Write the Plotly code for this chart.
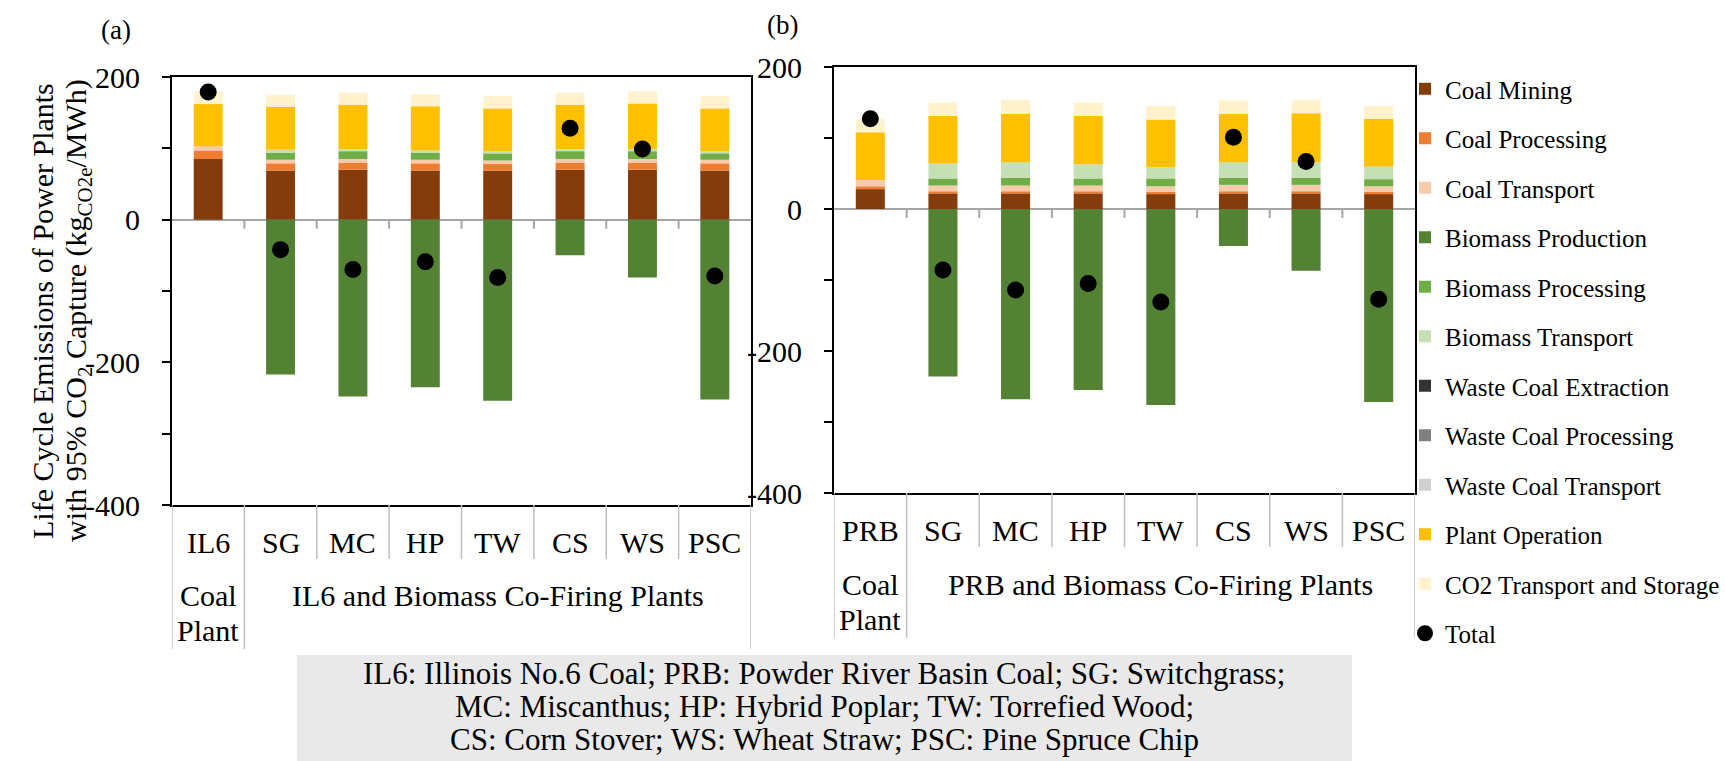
import plotly.graph_objects as go

# ---- data (kg CO2e / MWh) ----
cats_a = ["IL6", "SG", "MC", "HP", "TW", "CS", "WS", "PSC"]
cats_b = ["PRB", "SG", "MC", "HP", "TW", "CS", "WS", "PSC"]

series_names = [
    "Coal Mining", "Coal Processing", "Coal Transport",
    "Biomass Production", "Biomass Processing", "Biomass Transport",
    "Waste Coal Extraction", "Waste Coal Processing", "Waste Coal Transport",
    "Plant Operation", "CO2 Transport and Storage",
]

coal_mining_a = [85, 69, 70, 69, 69, 70, 70, 69]
coal_processing_a = [12, 10, 10, 10, 9, 10, 10, 10]
coal_transport_a = [6, 5, 5, 5, 5, 5, 5, 5]
biomass_production_a = [0, -217, -248, -235, -254, -50, -81, -252]
biomass_processing_a = [0, 10, 11, 10, 10, 11, 11, 9]
biomass_transport_a = [0, 4, 3, 3, 3, 3, 3, 3]
waste_coal_extraction_a = [0, 0, 0, 0, 0, 0, 0, 0]
waste_coal_processing_a = [0, 0, 0, 0, 0, 0, 0, 0]
waste_coal_transport_a = [0, 0, 0, 0, 0, 0, 0, 0]
plant_operation_a = [59, 60, 62, 62, 60, 62, 64, 60]
co2_transport_storage_a = [17, 17, 17, 17, 17, 17, 17, 17]

coal_mining_b = [28, 22, 22, 22, 21, 22, 22, 21]
coal_processing_b = [4, 3, 3, 3, 3, 3, 3, 3]
coal_transport_b = [9, 8, 8, 8, 8, 9, 9, 8]
biomass_production_b = [0, -236, -268, -255, -276, -52, -87, -272]
biomass_processing_b = [0, 10, 11, 10, 11, 10, 10, 10]
biomass_transport_b = [0, 21, 22, 20, 16, 22, 22, 18]
waste_coal_extraction_b = [0, 0, 0, 0, 0, 0, 0, 0]
waste_coal_processing_b = [0, 0, 0, 0, 0, 0, 0, 0]
waste_coal_transport_b = [0, 0, 0, 0, 0, 0, 0, 0]
plant_operation_b = [67, 67, 68, 68, 67, 68, 69, 67]
co2_transport_storage_b = [19, 19, 20, 19, 19, 19, 19, 18]

y_tick_values = [-400, -200, 0, 200]
y_tick_text = ["-400", "-200", "0", "200"]
y_minor_tick_values = [-300, -100, 100]

group_a = "IL6 and Biomass Co-Firing Plants"
group_b = "PRB and Biomass Co-Firing Plants"
note_lines = [
    "IL6: Illinois No.6 Coal; PRB: Powder River Basin Coal; SG: Switchgrass;",
    "MC: Miscanthus; HP: Hybrid Poplar; TW: Torrefied Wood;",
    "CS: Corn Stover; WS: Wheat Straw; PSC: Pine Spruce Chip",
]

colors = [
    "#843C0C", "#ED7D31", "#F8CBAD",
    "#548235", "#70AD47", "#C5E0B4",
    "#333333", "#808080", "#D0D0D0",
    "#FFC000", "#FFF2CC",
]

values_a = [coal_mining_a, coal_processing_a, coal_transport_a,
            biomass_production_a, biomass_processing_a, biomass_transport_a,
            waste_coal_extraction_a, waste_coal_processing_a, waste_coal_transport_a,
            plant_operation_a, co2_transport_storage_a]
values_b = [coal_mining_b, coal_processing_b, coal_transport_b,
            biomass_production_b, biomass_processing_b, biomass_transport_b,
            waste_coal_extraction_b, waste_coal_processing_b, waste_coal_transport_b,
            plant_operation_b, co2_transport_storage_b]

# net emissions per plant = sum of all stages
total_a = [sum(v[i] for v in values_a) for i in range(len(cats_a))]
total_b = [sum(v[i] for v in values_b) for i in range(len(cats_b))]

# ---- page geometry (pixels) ----
W, H = 1725, 761
FONT = "Liberation Serif"


def px(x):
    return x / W


def py(y):
    return 1 - y / H


fig = go.Figure()

for name, color, va, vb in zip(series_names, colors, values_a, values_b):
    fig.add_trace(go.Bar(x=cats_a, y=va, name=name, marker_color=color,
                         marker_line_width=0, legendgroup=name,
                         xaxis="x", yaxis="y", width=0.4))
    fig.add_trace(go.Bar(x=cats_b, y=vb, name=name, marker_color=color,
                         marker_line_width=0, legendgroup=name, showlegend=False,
                         xaxis="x2", yaxis="y2", width=0.4))

fig.add_trace(go.Scatter(x=cats_a, y=total_a, mode="markers", name="Total",
                         legendgroup="Total",
                         marker=dict(color="black", size=17),
                         xaxis="x", yaxis="y"))
fig.add_trace(go.Scatter(x=cats_b, y=total_b, mode="markers", name="Total",
                         legendgroup="Total", showlegend=False,
                         marker=dict(color="black", size=17),
                         xaxis="x2", yaxis="y2"))

xaxis_common = dict(type="category", range=[-0.5, 7.5], showticklabels=False,
                    ticks="", showgrid=False, showline=True, linecolor="black",
                    linewidth=2, mirror=True, zeroline=False)
yaxis_common = dict(range=[-400, 200], tickvals=y_tick_values, ticktext=y_tick_text,
                    ticks="outside", ticklen=8, tickwidth=2, tickcolor="black",
                    minor=dict(tickvals=y_minor_tick_values, ticks="outside",
                               ticklen=8, tickwidth=2, tickcolor="black",
                               showgrid=False),
                    showgrid=False, showline=True, linecolor="black", linewidth=2,
                    mirror=True, zeroline=True, zerolinecolor="#A6A6A6",
                    zerolinewidth=2, ticklabelstandoff=16,
                    tickfont=dict(family=FONT, size=30, color="black"))

dom_a_x = [px(172), px(751)]
dom_a_y = [py(505), py(77)]
dom_b_x = [px(834), px(1415)]
dom_b_y = [py(493), py(67)]

fig.update_layout(
    width=W, height=H,
    margin=dict(l=0, r=0, t=0, b=0, autoexpand=False),
    paper_bgcolor="white", plot_bgcolor="white",
    barmode="relative",
    font=dict(family=FONT, size=25, color="black"),
    xaxis=dict(domain=dom_a_x, anchor="y", categoryarray=cats_a, **xaxis_common),
    yaxis=dict(domain=dom_a_y, anchor="x", **yaxis_common),
    xaxis2=dict(domain=dom_b_x, anchor="y2", categoryarray=cats_b, **xaxis_common),
    yaxis2=dict(domain=dom_b_y, anchor="x2", **yaxis_common),
    legend=dict(x=px(1405), y=py(66), xanchor="left", yanchor="top",
                traceorder="grouped", tracegroupgap=14,
                font=dict(family=FONT, size=25, color="black"),
                bgcolor="rgba(0,0,0,0)"),
    showlegend=True,
)

shapes = []
annotations = []

# note box under the panels
shapes.append(dict(type="rect", xref="paper", yref="paper",
                   x0=px(297), x1=px(1352), y0=py(761), y1=py(655),
                   fillcolor="#E9E9E9", line=dict(width=0), layer="below"))
for line, ypix in zip(note_lines, [673, 706, 739]):
    annotations.append(dict(xref="paper", yref="paper", x=px(824), y=py(ypix),
                            text=line, showarrow=False, xanchor="center",
                            yanchor="middle",
                            font=dict(family=FONT, size=31, color="black")))

panels = [
    dict(xr="x", yr="y", cats=cats_a, bottom=505, cat_y=542, grp_y=595,
         inner_end=559, outer_end=649, group=group_a),
    dict(xr="x2", yr="y2", cats=cats_b, bottom=493, cat_y=530, grp_y=584,
         inner_end=547, outer_end=638, group=group_b),
]

for p in panels:
    n = len(p["cats"])
    # tick marks on the zero line at category boundaries
    for k in range(n - 1):
        shapes.append(dict(type="line", xref=p["xr"], yref=p["yr"],
                           x0=k + 0.5, x1=k + 0.5, ysizemode="pixel",
                           yanchor=0, y0=0, y1=-9,
                           line=dict(color="#A6A6A6", width=2)))
    # category divider lines below the plot area
    for k in range(n + 1):
        xb = k - 0.5
        end = p["outer_end"] if k in (0, 1, n) else p["inner_end"]
        shapes.append(dict(type="line", xref=p["xr"], yref="paper",
                           x0=xb, x1=xb, y0=py(p["bottom"]), y1=py(end),
                           line=dict(color="#BFBFBF", width=1.5)))
    # category labels
    for c in p["cats"]:
        annotations.append(dict(xref=p["xr"], yref="paper", x=c, y=py(p["cat_y"]),
                                text=c, showarrow=False, xanchor="center",
                                yanchor="middle",
                                font=dict(family=FONT, size=30, color="black")))
    # group labels
    annotations.append(dict(xref=p["xr"], yref="paper", x=0, y=py(p["grp_y"]),
                            text="Coal", showarrow=False, xanchor="center",
                            yanchor="middle",
                            font=dict(family=FONT, size=30, color="black")))
    annotations.append(dict(xref=p["xr"], yref="paper", x=0, y=py(p["grp_y"] + 35),
                            text="Plant", showarrow=False, xanchor="center",
                            yanchor="middle",
                            font=dict(family=FONT, size=30, color="black")))
    annotations.append(dict(xref=p["xr"], yref="paper", x=4, y=py(p["grp_y"]),
                            text=p["group"], showarrow=False, xanchor="center",
                            yanchor="middle",
                            font=dict(family=FONT, size=30, color="black")))

# panel tags
annotations.append(dict(xref="paper", yref="paper", x=px(116), y=py(30), text="(a)",
                        showarrow=False, xanchor="center", yanchor="middle",
                        font=dict(family=FONT, size=27, color="black")))
annotations.append(dict(xref="paper", yref="paper", x=px(782), y=py(25), text="(b)",
                        showarrow=False, xanchor="center", yanchor="middle",
                        font=dict(family=FONT, size=27, color="black")))

# y-axis title, two rotated lines
annotations.append(dict(xref="paper", yref="paper", x=px(42), y=py(311),
                        text="Life Cycle Emissions of Power Plants", textangle=-90,
                        showarrow=False, xanchor="center", yanchor="middle",
                        font=dict(family=FONT, size=30, color="black")))
annotations.append(dict(xref="paper", yref="paper", x=px(78), y=py(311),
                        text="with 95% CO<sub>2</sub> Capture (kg<sub>CO2e</sub>/MWh)",
                        textangle=-90, showarrow=False, xanchor="center",
                        yanchor="middle",
                        font=dict(family=FONT, size=30, color="black")))

fig.update_layout(shapes=shapes, annotations=annotations)

fig.write_html("out.html", include_plotlyjs=True, config={"displayModeBar": False})
